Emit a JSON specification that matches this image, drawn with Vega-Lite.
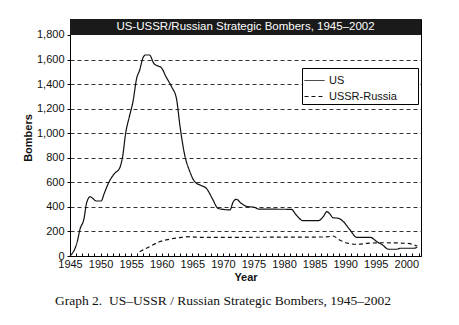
{
  "$schema": "https://vega.github.io/schema/vega-lite/v6.json",
  "autosize": {"type": "none"},
  "padding": {"left": 70, "top": 19, "right": 38, "bottom": 69},
  "width": 351,
  "height": 237,
  "background": "white",
  "title": {
    "text": "Graph 2.\u00a0\u00a0US–USSR / Russian Strategic Bombers, 1945–2002",
    "orient": "bottom",
    "anchor": "start",
    "frame": "group",
    "dx": -15,
    "offset": 12,
    "font": "Liberation Serif",
    "fontSize": 13.5,
    "fontWeight": "normal",
    "color": "#111"
  },
  "config": {
    "view": {"stroke": "black", "strokeWidth": 1},
    "font": "Liberation Sans",
    "axis": {
      "labelFont": "Liberation Sans",
      "labelFontSize": 11,
      "labelColor": "#111",
      "titleFont": "Liberation Sans",
      "titleFontSize": 11,
      "titleFontWeight": "bold",
      "titleColor": "#111",
      "domainColor": "black",
      "tickColor": "black"
    }
  },
  "datasets": {
    "bombers": [
      {"year": 1945.0, "series": "US", "count": 0},
      {"year": 1946.25, "series": "US", "count": 130},
      {"year": 1946.6, "series": "US", "count": 212},
      {"year": 1947.3, "series": "US", "count": 307},
      {"year": 1947.7, "series": "US", "count": 429},
      {"year": 1948.3, "series": "US", "count": 483},
      {"year": 1948.7, "series": "US", "count": 470},
      {"year": 1949.3, "series": "US", "count": 448},
      {"year": 1950.1, "series": "US", "count": 448},
      {"year": 1950.6, "series": "US", "count": 510},
      {"year": 1951.4, "series": "US", "count": 605},
      {"year": 1952.3, "series": "US", "count": 673},
      {"year": 1953.1, "series": "US", "count": 714},
      {"year": 1953.6, "series": "US", "count": 808},
      {"year": 1954.1, "series": "US", "count": 999},
      {"year": 1954.7, "series": "US", "count": 1134},
      {"year": 1955.3, "series": "US", "count": 1257},
      {"year": 1955.9, "series": "US", "count": 1447},
      {"year": 1956.4, "series": "US", "count": 1515},
      {"year": 1956.9, "series": "US", "count": 1610},
      {"year": 1957.3, "series": "US", "count": 1637},
      {"year": 1958.0, "series": "US", "count": 1637},
      {"year": 1958.7, "series": "US", "count": 1569},
      {"year": 1959.4, "series": "US", "count": 1547},
      {"year": 1959.9, "series": "US", "count": 1536},
      {"year": 1960.7, "series": "US", "count": 1460},
      {"year": 1961.6, "series": "US", "count": 1379},
      {"year": 1962.4, "series": "US", "count": 1284},
      {"year": 1963.0, "series": "US", "count": 1053},
      {"year": 1963.7, "series": "US", "count": 836},
      {"year": 1964.6, "series": "US", "count": 687},
      {"year": 1965.4, "series": "US", "count": 605},
      {"year": 1966.5, "series": "US", "count": 573},
      {"year": 1967.3, "series": "US", "count": 551},
      {"year": 1968.3, "series": "US", "count": 465},
      {"year": 1969.2, "series": "US", "count": 388},
      {"year": 1970.3, "series": "US", "count": 378},
      {"year": 1971.15, "series": "US", "count": 375},
      {"year": 1971.7, "series": "US", "count": 442},
      {"year": 1972.2, "series": "US", "count": 462},
      {"year": 1973.0, "series": "US", "count": 429},
      {"year": 1973.9, "series": "US", "count": 404},
      {"year": 1975.2, "series": "US", "count": 396},
      {"year": 1975.8, "series": "US", "count": 382},
      {"year": 1981.2, "series": "US", "count": 380},
      {"year": 1982.0, "series": "US", "count": 334},
      {"year": 1983.1, "series": "US", "count": 288},
      {"year": 1985.6, "series": "US", "count": 288},
      {"year": 1986.4, "series": "US", "count": 320},
      {"year": 1987.0, "series": "US", "count": 361},
      {"year": 1987.5, "series": "US", "count": 342},
      {"year": 1988.0, "series": "US", "count": 312},
      {"year": 1988.9, "series": "US", "count": 307},
      {"year": 1989.7, "series": "US", "count": 280},
      {"year": 1990.8, "series": "US", "count": 212},
      {"year": 1991.9, "series": "US", "count": 152},
      {"year": 1994.1, "series": "US", "count": 152},
      {"year": 1995.2, "series": "US", "count": 116},
      {"year": 1996.1, "series": "US", "count": 90},
      {"year": 1997.1, "series": "US", "count": 55},
      {"year": 1998.4, "series": "US", "count": 55},
      {"year": 1999.0, "series": "US", "count": 63},
      {"year": 2001.2, "series": "US", "count": 63},
      {"year": 2001.8, "series": "US", "count": 71},
      {"year": 1956.4, "series": "USSR-Russia", "count": 35},
      {"year": 1958.0, "series": "USSR-Russia", "count": 76},
      {"year": 1959.6, "series": "USSR-Russia", "count": 116},
      {"year": 1961.2, "series": "USSR-Russia", "count": 136},
      {"year": 1962.9, "series": "USSR-Russia", "count": 149},
      {"year": 1964.6, "series": "USSR-Russia", "count": 157},
      {"year": 1966.2, "series": "USSR-Russia", "count": 152},
      {"year": 1987.0, "series": "USSR-Russia", "count": 155},
      {"year": 1988.0, "series": "USSR-Russia", "count": 163},
      {"year": 1989.1, "series": "USSR-Russia", "count": 130},
      {"year": 1990.5, "series": "USSR-Russia", "count": 103},
      {"year": 1991.9, "series": "USSR-Russia", "count": 95},
      {"year": 1993.5, "series": "USSR-Russia", "count": 103},
      {"year": 1996.2, "series": "USSR-Russia", "count": 108},
      {"year": 2000.1, "series": "USSR-Russia", "count": 103},
      {"year": 2001.8, "series": "USSR-Russia", "count": 81}
    ],
    "heading": [
      {"label": "US-USSR/Russian Strategic Bombers, 1945–2002", "bottom": 1800, "top": 1930}
    ]
  },
  "layer": [
    {
      "data": {"name": "bombers"},
      "mark": {"type": "line", "interpolate": "monotone", "color": "#111", "strokeWidth": 1.2},
      "encoding": {
        "x": {
          "field": "year",
          "type": "quantitative",
          "scale": {"domain": [1945, 2002.4], "nice": false, "zero": false},
          "axis": {
            "title": "Year",
            "titlePadding": 2,
            "values": [1945,1946,1947,1948,1949,1950,1951,1952,1953,1954,1955,1956,1957,1958,1959,1960,1961,1962,1963,1964,1965,1966,1967,1968,1969,1970,1971,1972,1973,1974,1975,1976,1977,1978,1979,1980,1981,1982,1983,1984,1985,1986,1987,1988,1989,1990,1991,1992,1993,1994,1995,1996,1997,1998,1999,2000,2001,2002],
            "labelExpr": "datum.value % 5 == 0 ? datum.label : ''",
            "format": "d",
            "labelOverlap": false,
            "labelFlush": false,
            "tickSize": -3,
            "labelPadding": 5,
            "grid": false
          }
        },
        "y": {
          "field": "count",
          "type": "quantitative",
          "scale": {"domain": [0, 1930], "nice": false},
          "axis": {
            "title": "Bombers",
            "titlePadding": 3,
            "values": [0,200,400,600,800,1000,1200,1400,1600,1800],
            "format": ",d",
            "labelOverlap": false,
            "tickSize": 3,
            "labelPadding": 3,
            "grid": true,
            "gridColor": {"condition": {"test": "datum.value >= 1800", "value": "transparent"}, "value": "#333"},
            "gridDash": [4, 3],
            "gridWidth": 1
          }
        },
        "strokeDash": {
          "field": "series",
          "type": "nominal",
          "scale": {"domain": ["US", "USSR-Russia"], "range": [[1, 0], [4, 3]]},
          "legend": {
            "title": null,
            "orient": "none",
            "legendX": 232,
            "legendY": 49,
            "padding": 2,
            "strokeColor": "black",
            "fillColor": "white",
            "symbolType": "stroke",
            "symbolStrokeColor": "#111",
            "symbolStrokeWidth": 1,
            "symbolSize": 400,
            "labelFont": "Liberation Sans",
            "labelFontSize": 11,
            "labelColor": "#111",
            "labelExpr": "datum.label + '\u00a0\u00a0\u00a0\u00a0\u00a0\u00a0\u200b'",
            "rowPadding": -3,
            "labelOffset": 4
          }
        }
      }
    },
    {
      "data": {"name": "heading"},
      "mark": {"type": "rect", "color": "#1a1a1a"},
      "encoding": {
        "y": {
          "field": "bottom",
          "type": "quantitative",
          "axis": {
            "title": "Bombers",
            "titlePadding": 3,
            "values": [0,200,400,600,800,1000,1200,1400,1600,1800],
            "format": ",d",
            "labelOverlap": false,
            "tickSize": 3,
            "labelPadding": 3,
            "grid": true,
            "gridColor": {"condition": {"test": "datum.value >= 1800", "value": "transparent"}, "value": "#333"},
            "gridDash": [4, 3],
            "gridWidth": 1
          }
        },
        "y2": {"field": "top"}
      }
    },
    {
      "data": {"name": "heading"},
      "mark": {"type": "text", "color": "white", "font": "Liberation Sans", "fontSize": 11.5, "baseline": "middle", "align": "center"},
      "encoding": {
        "y": {"value": 8},
        "text": {"field": "label"}
      }
    }
  ]
}
